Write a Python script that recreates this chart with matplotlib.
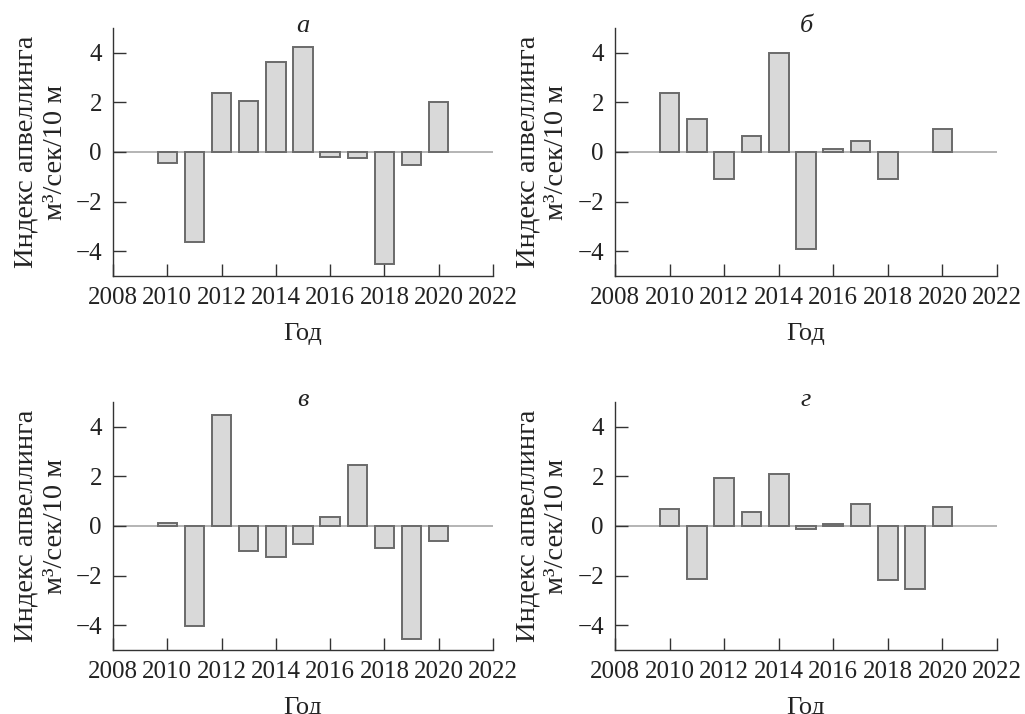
import matplotlib.pyplot as plt

plt.rcParams['font.family'] = ['Liberation Serif', 'DejaVu Serif']

years = [2010, 2011, 2012, 2013, 2014, 2015, 2016, 2017, 2018, 2019, 2020]

# upwelling index per panel
panel_a = [-0.45, -3.62, 2.38, 2.07, 3.62, 4.25, -0.21, -0.26, -4.5, -0.51, 2.03]
panel_b = [2.36, 1.32, -1.08, 0.65, 3.99, -3.9, 0.12, 0.43, -1.09, 0.0, 0.92]
panel_v = [0.13, -4.03, 4.48, -0.99, -1.23, -0.72, 0.36, 2.44, -0.87, -4.56, -0.59]
panel_g = [0.67, -2.13, 1.92, 0.56, 2.11, -0.13, 0.08, 0.87, -2.16, -2.56, 0.75]

titles = ['а', 'б', 'в', 'г']
xticks = [2008, 2010, 2012, 2014, 2016, 2018, 2020, 2022]
yticks = [-4, -2, 0, 2, 4]

fig = plt.figure(figsize=(10.25, 7.14), dpi=100)

# axes rectangles in pixels (left, top, right, bottom)
boxes = [(113, 28, 493, 276), (615, 28, 997, 276),
         (113, 402, 493, 650), (615, 402, 997, 650)]

for data, title, (l, t, r, b) in zip([panel_a, panel_b, panel_v, panel_g], titles, boxes):
    ax = fig.add_axes([l / 1025, 1 - b / 714, (r - l) / 1025, (b - t) / 714])
    lw = [1.4 if v != 0 else 0 for v in data]
    ax.bar(years, data, width=0.72, color='#d9d9d9', edgecolor='#6a6a6a',
           linewidth=lw, zorder=2)
    ax.axhline(0, color='#a8a8a8', linewidth=1.2, zorder=1)
    ax.set_xlim(2008.1, 2022)
    ax.set_ylim(-5, 5)
    ax.set_xticks(xticks)
    ax.set_yticks(yticks)
    ax.set_yticklabels(['\u22124', '\u22122', '0', '2', '4'])
    ax.spines['top'].set_visible(False)
    ax.spines['right'].set_visible(False)
    for s in ['left', 'bottom']:
        ax.spines[s].set_color('#333333')
        ax.spines[s].set_linewidth(1.0)
    ax.tick_params(direction='in', length=9, width=1.0, color='#333333',
                   labelsize=18, pad=8, labelcolor='#222222')
    ax.set_xlabel('Год', fontsize=19, color='#222222', labelpad=10)
    ax.set_ylabel('Индекс апвеллинга\nм³/сек/10 м', fontsize=20.5,
                  color='#222222', linespacing=1.2, va='center')
    ax.yaxis.set_label_coords(-0.19, 0.5)
    ax.text(0.5, 1.01, title, transform=ax.transAxes, fontsize=19,
            style='italic', color='#222222', ha='center', va='center')

plt.savefig('out.png', dpi=100)
